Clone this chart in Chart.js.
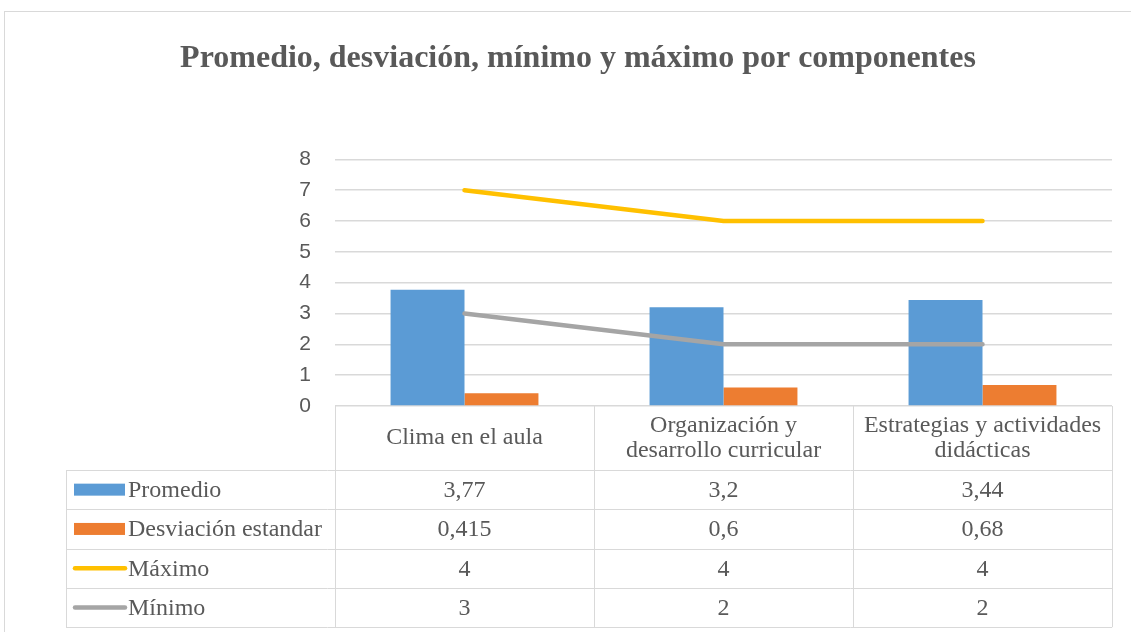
<!DOCTYPE html>
<html>
<head>
<meta charset="utf-8">
<script src="https://cdn.jsdelivr.net/npm/chart.js@4"></script>
<style>
  html, body { margin: 0; padding: 0; background: #fff; }
  #wrap { width: 1131px; height: 632px; }
</style>
</head>
<body>
<div id="wrap"><canvas id="compChart" width="1131" height="632"></canvas></div>
<script>
// values
const categories = [["Clima en el aula"], ["Organización y", "desarrollo curricular"], ["Estrategias y actividades", "didácticas"]];
const promedio = [3.77, 3.2, 3.44];
const desviacion = [0.415, 0.6, 0.68];
const maximo = [7, 6, 6];
const minimo = [3, 2, 2];
// the data table under the chart prints 4 in the max row
const maximoTabla = ["4", "4", "4"];
const yTicks = [0, 1, 2, 3, 4, 5, 6, 7, 8];

const GRID = '#d9d9d9';
const TEXT = '#595959';
const SERIF = '"Liberation Serif", "Times New Roman", Times, "DejaVu Serif", serif';

function fmt(v) {
    return String(v).replace('.', ',');
}

const tableRows = [
    { label: 'Promedio', key: 'bar', color: '#5b9bd5', cells: promedio.map(fmt) },
    { label: 'Desviación estandar', key: 'bar', color: '#ed7d31', cells: desviacion.map(fmt) },
    { label: 'Máximo', key: 'line', color: '#ffc000', cells: maximoTabla },
    { label: 'Mínimo', key: 'line', color: '#a5a5a5', cells: minimo.map(fmt) }
];

// outer frame + data table drawn under the plot
const dataTable = {
    id: 'dataTable',
    beforeDraw(chart) {
        var ctx = chart.ctx;
        ctx.save();
        ctx.strokeStyle = GRID;
        ctx.lineWidth = 1;
        ctx.strokeRect(4.5, 11.5, 1200, 700);
        ctx.restore();
    },
    afterDraw(chart) {
        var ctx = chart.ctx;
        var xs = chart.scales.x;
        var area = chart.chartArea;
        var n = categories.length;
        var colW = (area.right - area.left) / n;
        var headTop = area.bottom;
        var headBottom = headTop + 64;
        var rowH = 39.3;
        var tableBottom = headBottom + rowH * tableRows.length;
        var leftX = 66;

        ctx.save();
        ctx.strokeStyle = GRID;
        ctx.lineWidth = 1;
        ctx.beginPath();
        // column lines
        for (var i = 0; i <= n; i++) {
            var x = Math.round(area.left + colW * i) + 0.5;
            ctx.moveTo(x, headTop);
            ctx.lineTo(x, tableBottom);
        }
        ctx.moveTo(leftX + 0.5, headBottom);
        ctx.lineTo(leftX + 0.5, tableBottom);
        // row lines
        for (var r = 0; r <= tableRows.length; r++) {
            var y = Math.round(headBottom + rowH * r) + 0.5;
            ctx.moveTo(leftX, y);
            ctx.lineTo(area.right, y);
        }
        ctx.stroke();

        ctx.fillStyle = TEXT;
        ctx.font = Chart.helpers.toFont({ family: SERIF, size: 24, weight: 400 }).string;
        ctx.textAlign = 'center';
        ctx.textBaseline = 'middle';

        // header (category names)
        categories.forEach(function(lines, i) {
            var cx = xs.getPixelForValue(i);
            var cy = (headTop + headBottom) / 2 - (lines.length - 1) * 12.5;
            lines.forEach(function(t, k) {
                ctx.fillText(t, cx, cy + k * 25);
            });
        });

        // series rows
        tableRows.forEach(function(row, r) {
            var cy = headBottom + rowH * r + rowH / 2;
            row.cells.forEach(function(t, i) {
                ctx.textAlign = 'center';
                ctx.fillText(t, xs.getPixelForValue(i), cy + 1);
            });
            // legend key
            if (row.key === 'bar') {
                ctx.fillStyle = row.color;
                ctx.fillRect(74, cy - 6, 51, 12);
            } else {
                ctx.strokeStyle = row.color;
                ctx.lineWidth = 4.5;
                ctx.lineCap = 'round';
                ctx.beginPath();
                ctx.moveTo(75, cy);
                ctx.lineTo(125, cy);
                ctx.stroke();
            }
            ctx.fillStyle = TEXT;
            ctx.textAlign = 'left';
            ctx.fillText(row.label, 128, cy + 1);
        });
        ctx.restore();
    }
};

var ctx = document.getElementById('compChart').getContext('2d');
var compChart = new Chart(ctx, {
    type: 'bar',
    data: {
        labels: categories.map(c => c.join(' ')),
        datasets: [{
            label: 'Promedio',
            data: promedio,
            backgroundColor: '#5b9bd5',
            order: 2
        }, {
            label: 'Desviación estandar',
            data: desviacion,
            backgroundColor: '#ed7d31',
            order: 2
        }, {
            type: 'line',
            label: 'Máximo',
            data: maximo,
            borderColor: '#ffc000',
            borderWidth: 4.5,
            borderCapStyle: 'round',
            pointRadius: 0,
            tension: 0,
            order: 1
        }, {
            type: 'line',
            label: 'Mínimo',
            data: minimo,
            borderColor: '#a5a5a5',
            borderWidth: 4.5,
            borderCapStyle: 'round',
            pointRadius: 0,
            tension: 0,
            order: 1
        }]
    },
    options: {
        responsive: false,
        animation: false,
        datasets: {
            bar: {
                categoryPercentage: 0.571,
                barPercentage: 1
            }
        },
        layout: {
            padding: { top: 0, right: 19, bottom: 226, left: 44 }
        },
        scales: {
            x: {
                display: false,
                offset: true
            },
            y: {
                min: 0,
                max: 8,
                afterFit: function(scale) { scale.width = 291; },
                afterBuildTicks: function(scale) {
                    scale.ticks = yTicks.map(v => ({ value: v }));
                },
                border: { display: false },
                grid: {
                    color: GRID,
                    lineWidth: 1.5,
                    drawTicks: false
                },
                ticks: {
                    padding: 24,
                    color: TEXT,
                    font: { family: '"Liberation Sans", Arial, sans-serif', size: 21 }
                }
            }
        },
        plugins: {
            legend: { display: false },
            tooltip: { enabled: false },
            title: {
                display: true,
                text: 'Promedio, desviación, mínimo y máximo por componentes',
                color: TEXT,
                font: { family: SERIF, size: 32, weight: 'bold' },
                padding: { top: 40, bottom: 81 }
            }
        }
    },
    plugins: [dataTable]
});
</script>
</body>
</html>
